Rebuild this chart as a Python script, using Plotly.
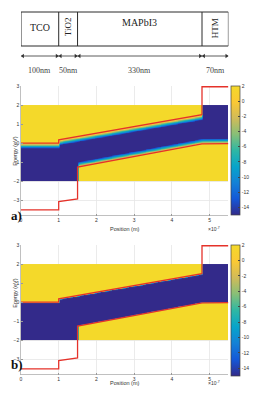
import numpy as np
import plotly.graph_objects as go

# ---------------- data ----------------
layer_names = ["TCO", "TiO2", "MAPbI3", "HTM"]
layer_nm = [100, 50, 330, 70]
layer_labels = ["100nm", "50nm", "330nm", "70nm"]

# band edges (position in 1e-7 m, energy in eV)
ec_x = [0, 1, 1, 4.8, 4.8, 5.5]
ec_y = [0.0, 0.0, 0.17, 1.49, 2.96, 2.96]
ev_x = [0, 1, 1, 1.5, 1.5, 4.8, 5.5]
ev_y = [-3.5, -3.5, -3.07, -2.93, -1.26, -0.04, -0.03]

map_x_range = [0.0, 5.5]
map_y_range = [-2.0, 2.0]
z_outside = 2.0
z_gap = -15.0
tail_width = {"a": 0.28, "b": 0.05}   # eV width of the band tails

x_ticks = [0, 1, 2, 3, 4, 5]
y_ticks = [-3, -2, -1, 0, 1, 2, 3]
cb_ticks = [2, 0, -2, -4, -6, -8, -10, -12, -14]

# ---------------- styles ----------------
W, H = 255, 394
RED = "#E5322A"
parula = [
    [0.0, "#332A8A"], [0.125, "#1458D8"], [0.25, "#1481D6"], [0.375, "#06A4CA"],
    [0.5, "#2EB7A4"], [0.625, "#87BF77"], [0.75, "#D1BB59"], [0.875, "#FBC934"],
    [1.0, "#F4D92A"],
]
SANS = "Liberation Sans"
SERIF = "Liberation Serif"

def px_x(p):
    return p / W

def px_y(p):
    return 1 - p / H

x_dom = [px_x(21), px_x(228.4)]
panels = {
    "a": dict(top=86, bottom=215.5, cb_top=86, cb_bot=215),
    "b": dict(top=245, bottom=374.5, cb_top=245, cb_bot=375.5),
}

def piecewise(xs, ys, xq):
    out = np.empty(len(xq))
    for j, x in enumerate(xq):
        for i in range(len(xs) - 1):
            if xs[i] < xs[i + 1] and xs[i] <= x <= xs[i + 1]:
                out[j] = ys[i] + (ys[i + 1] - ys[i]) * (x - xs[i]) / (xs[i + 1] - xs[i])
                break
    return out

dx, dy = 0.05, 0.02
xc = np.arange(map_x_range[0] + dx / 2, map_x_range[1], dx)
yc = np.arange(map_y_range[0] + dy / 2, map_y_range[1], dy)
Ec = piecewise(ec_x, ec_y, xc)
Ev = piecewise(ev_x, ev_y, xc)
depth = np.minimum(Ec[None, :] - yc[:, None], yc[:, None] - Ev[None, :])

fig = go.Figure()
axis_ids = {"a": ("x", "y"), "b": ("x2", "y2")}

for key in ["a", "b"]:
    xa, ya = axis_ids[key]
    Z = np.clip(z_outside - (z_outside - z_gap) * depth / tail_width[key], z_gap, z_outside)
    p = panels[key]
    fig.add_trace(go.Heatmap(
        x=xc, y=yc, z=Z, xaxis=xa, yaxis=ya, zmin=z_gap, zmax=z_outside,
        colorscale=parula, zsmooth="best", hoverinfo="skip",
        colorbar=dict(
            x=px_x(231), xanchor="left", xpad=0, ypad=0, xref="container", yref="container",
            y=px_y(p["cb_top"]), yanchor="top",
            len=(p["cb_bot"] - p["cb_top"]) / H, lenmode="fraction",
            thickness=9, thicknessmode="pixels",
            tickvals=cb_ticks, ticktext=[str(v) for v in cb_ticks],
            tickfont=dict(family=SANS, size=5, color="#333"),
            ticks="inside", ticklen=2, tickcolor="#444",
            outlinewidth=0.7, outlinecolor="#444", bgcolor="rgba(0,0,0,0)",
        ),
    ))
    fig.add_trace(go.Scatter(x=ec_x, y=ec_y, mode="lines", xaxis=xa, yaxis=ya,
                             line=dict(color=RED, width=1.3), showlegend=False, hoverinfo="skip"))
    fig.add_trace(go.Scatter(x=ev_x, y=ev_y, mode="lines", xaxis=xa, yaxis=ya,
                             line=dict(color=RED, width=1.3), showlegend=False, hoverinfo="skip"))

axis_common = dict(
    showgrid=True, gridcolor="#E6E6E6", gridwidth=0.8, zeroline=False, automargin=False,
    showline=True, linecolor="#B0B0B0", linewidth=0.8,
    ticks="inside", ticklen=2, tickcolor="#999",
    tickfont=dict(family=SANS, size=5, color="#333"),
)
layout = dict(
    template="none",
    width=W, height=H, margin=dict(l=0, r=0, t=0, b=0, pad=0, autoexpand=False),
    paper_bgcolor="white", plot_bgcolor="white", showlegend=False,
)
for key, (xa, ya) in axis_ids.items():
    p = panels[key]
    xname = "xaxis" if xa == "x" else "xaxis2"
    yname = "yaxis" if ya == "y" else "yaxis2"
    layout[xname] = dict(axis_common, domain=x_dom, range=map_x_range,
                         tickvals=x_ticks, anchor=ya)
    layout[yname] = dict(axis_common, domain=[px_y(p["bottom"]), px_y(p["top"])],
                         range=[-3.8, 3], tickvals=y_ticks, anchor=xa)

# schematic axes (nm, pixel rows)
layout["xaxis3"] = dict(domain=x_dom, range=[0, sum(layer_nm)], visible=False, anchor="y3", automargin=False)
layout["yaxis3"] = dict(domain=[px_y(80), 1], range=[80, 0], visible=False, anchor="x3", automargin=False)
fig.update_layout(**layout)

bounds = np.concatenate([[0], np.cumsum(layer_nm)])
shapes = [dict(type="rect", xref="x3", yref="y3", x0=bounds[0], x1=bounds[-1], y0=12, y1=46,
               line=dict(color="#2A2A2A", width=1))]
for b in bounds[1:-1]:
    shapes.append(dict(type="line", xref="x3", yref="y3", x0=b, x1=b, y0=12, y1=46,
                       line=dict(color="#2A2A2A", width=1)))
shapes.append(dict(type="line", xref="x3", yref="y3", x0=bounds[0], x1=bounds[-1], y0=56, y1=56,
                   line=dict(color="#333", width=0.8)))
fig.update_layout(shapes=shapes)

pad = 5
ax_x, ax_sym = [], []
for s, e in zip(bounds[:-1], bounds[1:]):
    ax_x += [s + pad, e - pad]
    ax_sym += ["triangle-left", "triangle-right"]
fig.add_trace(go.Scatter(x=ax_x, y=[56] * len(ax_x), mode="markers", xaxis="x3", yaxis="y3",
                         marker=dict(symbol=ax_sym, size=4, color="#333"),
                         showlegend=False, hoverinfo="skip"))

name_y = [27, 27, 22, 28]
name_angle = [0, -90, 0, -90]
name_size = [10, 9, 10, 9]
annotations = []
for i, nm in enumerate(layer_names):
    mid = (bounds[i] + bounds[i + 1]) / 2
    annotations.append(dict(x=mid, y=name_y[i], xref="x3", yref="y3", text=nm, showarrow=False,
                            textangle=name_angle[i],
                            font=dict(family=SERIF, size=name_size[i], color="#222")))
    annotations.append(dict(x=mid, y=70, xref="x3", yref="y3", text=layer_labels[i], showarrow=False,
                            font=dict(family=SERIF, size=8, color="#444")))

for key in ["a", "b"]:
    p = panels[key]
    annotations += [
        dict(x=px_x(10), y=px_y((p["top"] + p["bottom"]) / 2), xref="paper", yref="paper",
             text="Energy (eV)", textangle=-90, showarrow=False,
             font=dict(family=SANS, size=5.5, color="#333")),
        dict(x=px_x(124.5), y=px_y(p["bottom"] + 13), xref="paper", yref="paper",
             text="Position (m)", showarrow=False,
             font=dict(family=SANS, size=5.5, color="#333")),
        dict(x=px_x(222), y=px_y(p["bottom"] + 13.5), xref="paper", yref="paper",
             text="×10<sup>-7</sup>", showarrow=False,
             font=dict(family=SANS, size=5, color="#333")),
        dict(x=px_x(9), y=px_y(p["bottom"] - 0.5), xref="paper", yref="paper",
             text="<b>%s)</b>" % key, showarrow=False,
             font=dict(family=SERIF, size=13, color="#111")),
    ]
fig.update_layout(annotations=annotations)

fig.write_html(
    "out.html",
    config={"displayModeBar": False, "staticPlot": True},
    post_script="document.body.style.margin='0px';document.body.style.overflow='hidden';",
)
